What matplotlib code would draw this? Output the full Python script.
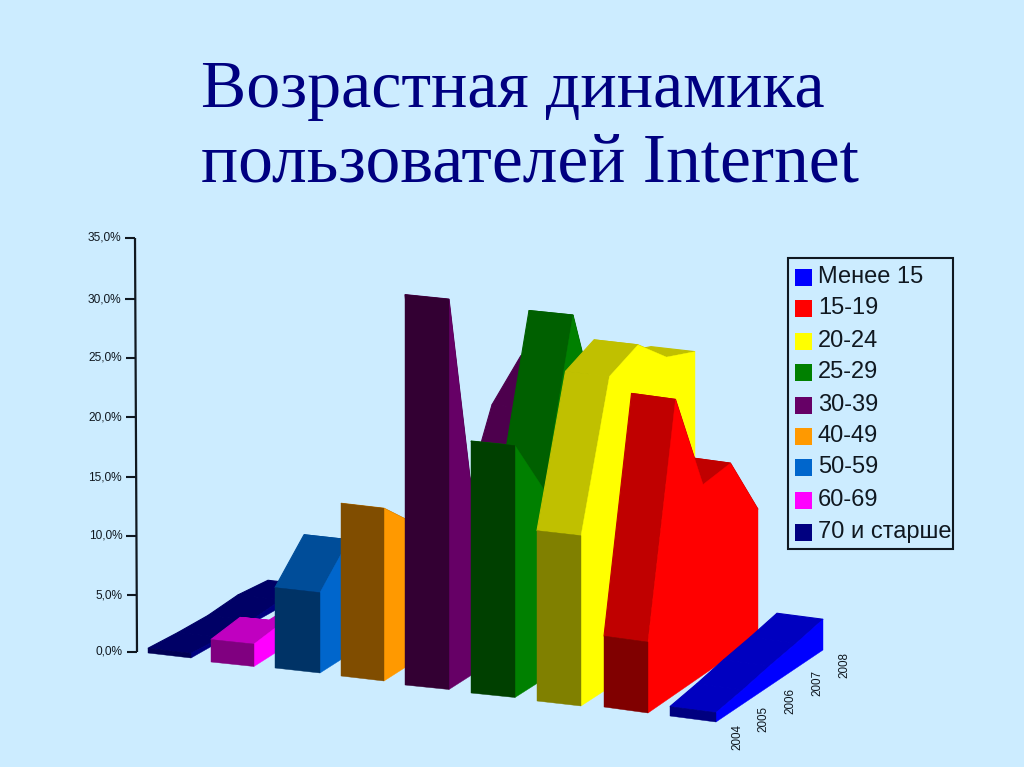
# -*- coding: utf-8 -*-
import matplotlib
matplotlib.use("Agg")
import matplotlib.pyplot as plt
from matplotlib.patches import Polygon, Rectangle

plt.rcParams['font.family'] = ['Liberation Sans', 'DejaVu Sans']

# data, in percent
years = ['2004', '2005', '2006', '2007', '2008']
groups = ['70 и старше', '60-69', '50-59', '40-49', '30-39', '25-29', '20-24', '15-19', 'Менее 15']
v_70 = [0.4, 0.3, 0.3, 0.6, 0.4]
v_60 = [1.9, 2.2, 0.4, 0.4, 0.4]
v_50 = [6.8, 9.7, 7.5, 7.0, 6.5]
v_40 = [14.6, 11.8, 10.0, 9.0, 8.0]
v_30 = [33.0, 10.6, 12.0, 19.0, 21.6]
v_25 = [21.3, 16.0, 29.2, 17.8, 16.0]
v_20 = [14.4, 26.3, 27.4, 24.8, 23.7]
v_15 = [6.0, 24.9, 16.1, 16.3, 10.8]
v_0 = [0.8, 1.2, 1.7, 2.1, 2.6]
values = [v_70, v_60, v_50, v_40, v_30, v_25, v_20, v_15, v_0]
ytick_labels = ['0,0%', '5,0%', '10,0%', '15,0%', '20,0%', '25,0%', '30,0%', '35,0%']

# colours: side, top, front
colors = ['#000080', '#FF00FF', '#0066CC', '#FF9900', '#660066', '#008000', '#FFFF00', '#FF0000', '#0000FF']
tops = ['#000066', '#C000C0', '#004D99', '#BF7300', '#4D004D', '#006000', '#C0C000', '#C00000', '#0000C0']
fronts = ['#000055', '#800080', '#003366', '#804D00', '#330033', '#004000', '#808000', '#800000', '#000080']
legend_order = [8, 7, 6, 5, 4, 3, 2, 1, 0]

# layout of the oblique view, in pixels
BG = '#CCECFF'
INK = '#101820'
SERIF = ['Liberation Serif', 'DejaVu Serif']
PX_PER_PCT = 11.83
front_x = [148, 211, 275, 341, 405, 471, 537, 604, 670]
front_y = [653, 662, 668, 676, 685, 693, 701, 707, 716]
front_w = [43, 43, 45, 43, 44, 44, 44, 44, 46]
front_d = [5, 4.5, 5, 5, 4.5, 4.5, 5, 6, 6]
step_x = [30, 29, 29, 29, 29, 29, 28.5, 27.5, 26.75]
step_y = [17, 18.5, 18.5, 18.5, 18.5, 18.5, 18.5, 19, 18]
tick_y = [652, 595, 536, 477, 417, 358, 299, 238]
legend_y = [277, 308, 341, 372, 405, 436, 467, 500, 532]


def project(s, i, v, right):
    x = front_x[s] + i * step_x[s]
    y = front_y[s] - i * step_y[s] - v * PX_PER_PCT
    if right:
        x = x + front_w[s]
        y = y + front_d[s]
    return (x, y)


fig = plt.figure(figsize=(10.24, 7.67), dpi=100, facecolor=BG)
ax = fig.add_axes([0, 0, 1, 1])
ax.set_xlim(0, 1024)
ax.set_ylim(767, 0)
ax.axis('off')

# title
ax.text(201, 107, 'Возрастная динамика', family=SERIF, fontsize=48.9,
        color='#000080', va='baseline', ha='left')
ax.text(201, 182, 'пользователей Internet', family=SERIF, fontsize=50,
        color='#000080', va='baseline', ha='left')

# value axis
ax.plot([135, 137], [238, 652], color=INK, lw=1.6, solid_capstyle='butt')
for yy, lab in zip(tick_y, ytick_labels):
    xx = 137 - (652 - yy) * 2 / 414.0
    ax.plot([xx - 10, xx], [yy, yy], color=INK, lw=1.5, solid_capstyle='butt')
    ax.text(xx - 14, yy, lab, fontsize=8.6, color=INK, ha='right', va='center')

# areas, left one first so the next one hides it
n = len(years)
for s in range(len(values)):
    v = values[s]
    # top strips, far ones first
    for i in range(n - 2, -1, -1):
        pts = [project(s, i, v[i], False), project(s, i, v[i], True),
               project(s, i + 1, v[i + 1], True), project(s, i + 1, v[i + 1], False)]
        ax.add_patch(Polygon(pts, closed=True, fc=tops[s], ec=tops[s], lw=0.8))
    # right side
    pts = [project(s, i, v[i], True) for i in range(n)]
    pts = pts + [project(s, i, 0, True) for i in range(n - 1, -1, -1)]
    ax.add_patch(Polygon(pts, closed=True, fc=colors[s], ec=colors[s], lw=0.3))
    # front
    pts = [project(s, 0, v[0], False), project(s, 0, v[0], True),
           project(s, 0, 0, True), project(s, 0, 0, False)]
    ax.add_patch(Polygon(pts, closed=True, fc=fronts[s], ec=fronts[s], lw=0.3))

# year labels along the last series
for i in range(n):
    xx, yy = project(len(values) - 1, i, 0, True)
    ax.text(xx + 21, yy + 15.5, years[i], rotation=90, fontsize=8.4, color=INK,
            ha='center', va='center')

# legend
ax.add_patch(Rectangle((788, 258), 165, 291, fc='none', ec=INK, lw=1.5))
for k, s in enumerate(legend_order):
    ax.add_patch(Rectangle((794.5, legend_y[k] - 8.5), 17, 17, fc=colors[s], ec='none'))
    ax.text(818, legend_y[k], groups[s], fontsize=17, color=INK, ha='left', va='center')

fig.savefig('out.png', dpi=100, facecolor=BG)
